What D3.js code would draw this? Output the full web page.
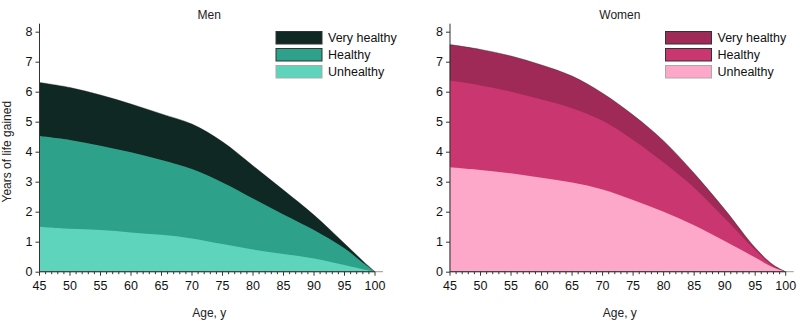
<!DOCTYPE html>
<html>
<head>
<meta charset="utf-8">
<script src="https://cdn.jsdelivr.net/npm/d3@7"></script>
<style>
  html, body { margin: 0; padding: 0; background: #fff; }
  svg { display: block; font-family: "Liberation Sans", Arial, sans-serif; }
</style>
</head>
<body>
<svg id="chart" width="800" height="331"></svg>
<script>
// Ages at which years of life gained were estimated
const ages = [45, 50, 55, 60, 65, 70, 75, 80, 85, 90, 95, 98, 100];

// Men: years of life gained by health status
const menVeryHealthy = [6.31, 6.14, 5.89, 5.59, 5.26, 4.92, 4.33, 3.53, 2.72, 1.89, 0.94, 0.36, 0];
const menHealthy     = [4.52, 4.39, 4.20, 3.98, 3.72, 3.42, 2.97, 2.44, 1.91, 1.39, 0.78, 0.30, 0];
const menUnhealthy   = [1.50, 1.43, 1.39, 1.31, 1.23, 1.11, 0.92, 0.74, 0.59, 0.44, 0.22, 0.08, 0];

// Women: years of life gained by health status
const womenVeryHealthy = [7.57, 7.41, 7.19, 6.89, 6.52, 5.95, 5.22, 4.36, 3.28, 2.08, 0.80, 0.22, 0];
const womenHealthy     = [6.37, 6.21, 6.00, 5.74, 5.45, 5.03, 4.39, 3.64, 2.80, 1.78, 0.72, 0.18, 0];
const womenUnhealthy   = [3.48, 3.39, 3.28, 3.13, 2.97, 2.74, 2.39, 2.00, 1.55, 1.02, 0.47, 0.14, 0];

const statusLabels = ["Very healthy", "Healthy", "Unhealthy"];
const menColors = ["#0f2823", "#2da189", "#5fd4bc"];
const womenColors = ["#a02a57", "#c93670", "#fda7c9"];

const xTickValues = [45, 50, 55, 60, 65, 70, 75, 80, 85, 90, 95, 100];
const yTickValues = [0, 1, 2, 3, 4, 5, 6, 7, 8];

const svg = d3.select("#chart");

function drawPanel(opts) {
  const { title, series, colors, x0, x1, legendX, showYTitle } = opts;
  const yBottom = 271.7, yTop = 31.7;

  const x = d3.scaleLinear().domain([45, 100]).range([x0, x1]);
  const y = d3.scaleLinear().domain([0, 8]).range([yBottom, yTop]);

  const g = svg.append("g");

  // Areas, drawn from the largest curve to the smallest so each stays visible
  const area = d3.area()
    .x((d, i) => x(ages[i]))
    .y0(y(0))
    .y1(d => y(d))
    .curve(d3.curveCatmullRom.alpha(0.5));

  series.forEach((vals, k) => {
    g.append("path")
      .datum(vals)
      .attr("d", area)
      .attr("fill", colors[k])
      .attr("stroke", k === 0 ? "#111" : "none")
      .attr("stroke-width", k === 0 ? 0.6 : 0)
      .attr("stroke-opacity", 0.6);
  });

  // X axis: minor ticks every year, labelled ticks every 5 years
  const xAxisG = g.append("g").attr("transform", `translate(0,${yBottom})`);
  xAxisG.append("line")
    .attr("x1", x0).attr("x2", x1 + 8)
    .attr("stroke", "#999").attr("stroke-width", 1);
  xAxisG.append("line")
    .attr("x1", x0).attr("x2", x1)
    .attr("stroke", "#333").attr("stroke-width", 1);
  const minor = d3.range(45, 101);
  xAxisG.selectAll("line.minor").data(minor).join("line")
    .attr("class", "minor")
    .attr("x1", d => x(d)).attr("x2", d => x(d))
    .attr("y1", 0).attr("y2", d => d % 5 === 0 ? 4 : 2.5)
    .attr("stroke", "#333").attr("stroke-width", 1);
  xAxisG.selectAll("text").data(xTickValues).join("text")
    .attr("x", d => x(d)).attr("y", 18)
    .attr("text-anchor", "middle")
    .attr("font-size", 12.5).attr("fill", "#111")
    .text(d => d);

  // Y axis
  const yAxis = d3.axisLeft(y).tickValues(yTickValues).tickSize(4).tickPadding(3).tickSizeOuter(0);
  const yAxisG = g.append("g").attr("transform", `translate(${x0},0)`).call(yAxis);
  yAxisG.select(".domain").remove();
  yAxisG.append("line")
    .attr("y1", yBottom).attr("y2", yTop - 8)
    .attr("stroke", "#333").attr("stroke-width", 1);
  yAxisG.selectAll(".tick line").attr("stroke", "#333");
  yAxisG.selectAll(".tick text").attr("font-size", 12.5).attr("fill", "#111")
    .attr("font-family", "Liberation Sans, Arial, sans-serif");

  // Titles
  g.append("text")
    .attr("x", (x0 + x1) / 2 + 2).attr("y", 19)
    .attr("text-anchor", "middle").attr("font-size", 12).attr("fill", "#222")
    .text(title);
  g.append("text")
    .attr("x", (x0 + x1) / 2 + 2).attr("y", 317)
    .attr("text-anchor", "middle").attr("font-size", 12).attr("fill", "#222")
    .text("Age, y");
  if (showYTitle) {
    g.append("text")
      .attr("transform", `translate(11,${(yTop + yBottom) / 2}) rotate(-90)`)
      .attr("text-anchor", "middle").attr("font-size", 12).attr("fill", "#222")
      .text("Years of life gained");
  }

  // Legend
  const ly = 31.5;
  const leg = g.append("g");
  statusLabels.forEach((lab, k) => {
    leg.append("rect")
      .attr("x", legendX).attr("y", ly + k * 17)
      .attr("width", 46).attr("height", 12.5)
      .attr("fill", colors[k])
      .attr("stroke", k === 2 ? "#aaa" : "#333").attr("stroke-width", 1);
    leg.append("text")
      .attr("x", legendX + 52).attr("y", ly + k * 17 + 10.5)
      .attr("font-size", 12.5).attr("fill", "#111")
      .text(lab);
  });
}

drawPanel({
  title: "Men",
  series: [menVeryHealthy, menHealthy, menUnhealthy],
  colors: menColors,
  x0: 39.5, x1: 375, legendX: 276,
  showYTitle: true
});

drawPanel({
  title: "Women",
  series: [womenVeryHealthy, womenHealthy, womenUnhealthy],
  colors: womenColors,
  x0: 450, x1: 785.7, legendX: 665.5,
  showYTitle: false
});
</script>
</body>
</html>
